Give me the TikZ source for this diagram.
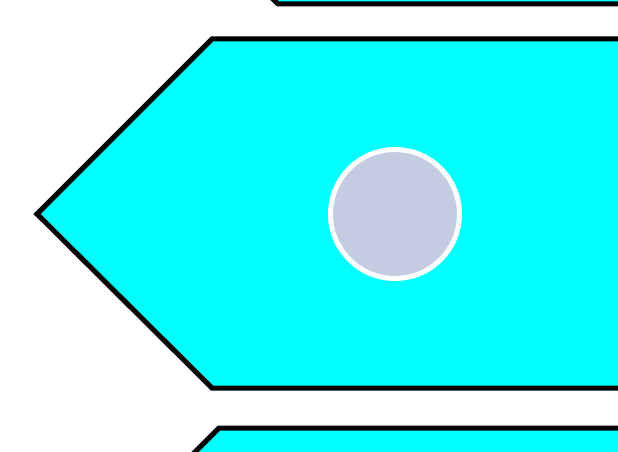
\documentclass[tikz,border=0pt]{standalone}
\definecolor{aqua}{HTML}{00FFFF}
\definecolor{dotfill}{HTML}{C3CCE0}
\tikzset{
  arrowshape/.style={fill=aqua, draw=black, line width=5pt, line join=miter},
  dot/.style={circle, fill=dotfill, draw=white, line width=5pt, minimum size=129pt, inner sep=0pt}
}
\begin{document}
\begin{tikzpicture}[x=1pt,y=-1pt]
\useasboundingbox (0,0) rectangle (618,452);
\clip (0,0) rectangle (618,452);
% top partial shape
\draw[arrowshape] (103,-171) -- (278,4) -- (640,4) -- (640,-200) -- (103,-200) -- cycle;
% main shape
\draw[arrowshape] (37,214) -- (212,39) -- (640,39) -- (640,388) -- (212,388) -- cycle;
% bottom partial shape
\draw[arrowshape] (44,603) -- (219,428) -- (640,428) -- (640,660) -- (44,660) -- cycle;
\node[dot] (c) at (395,214) {};
\end{tikzpicture}
\end{document}
